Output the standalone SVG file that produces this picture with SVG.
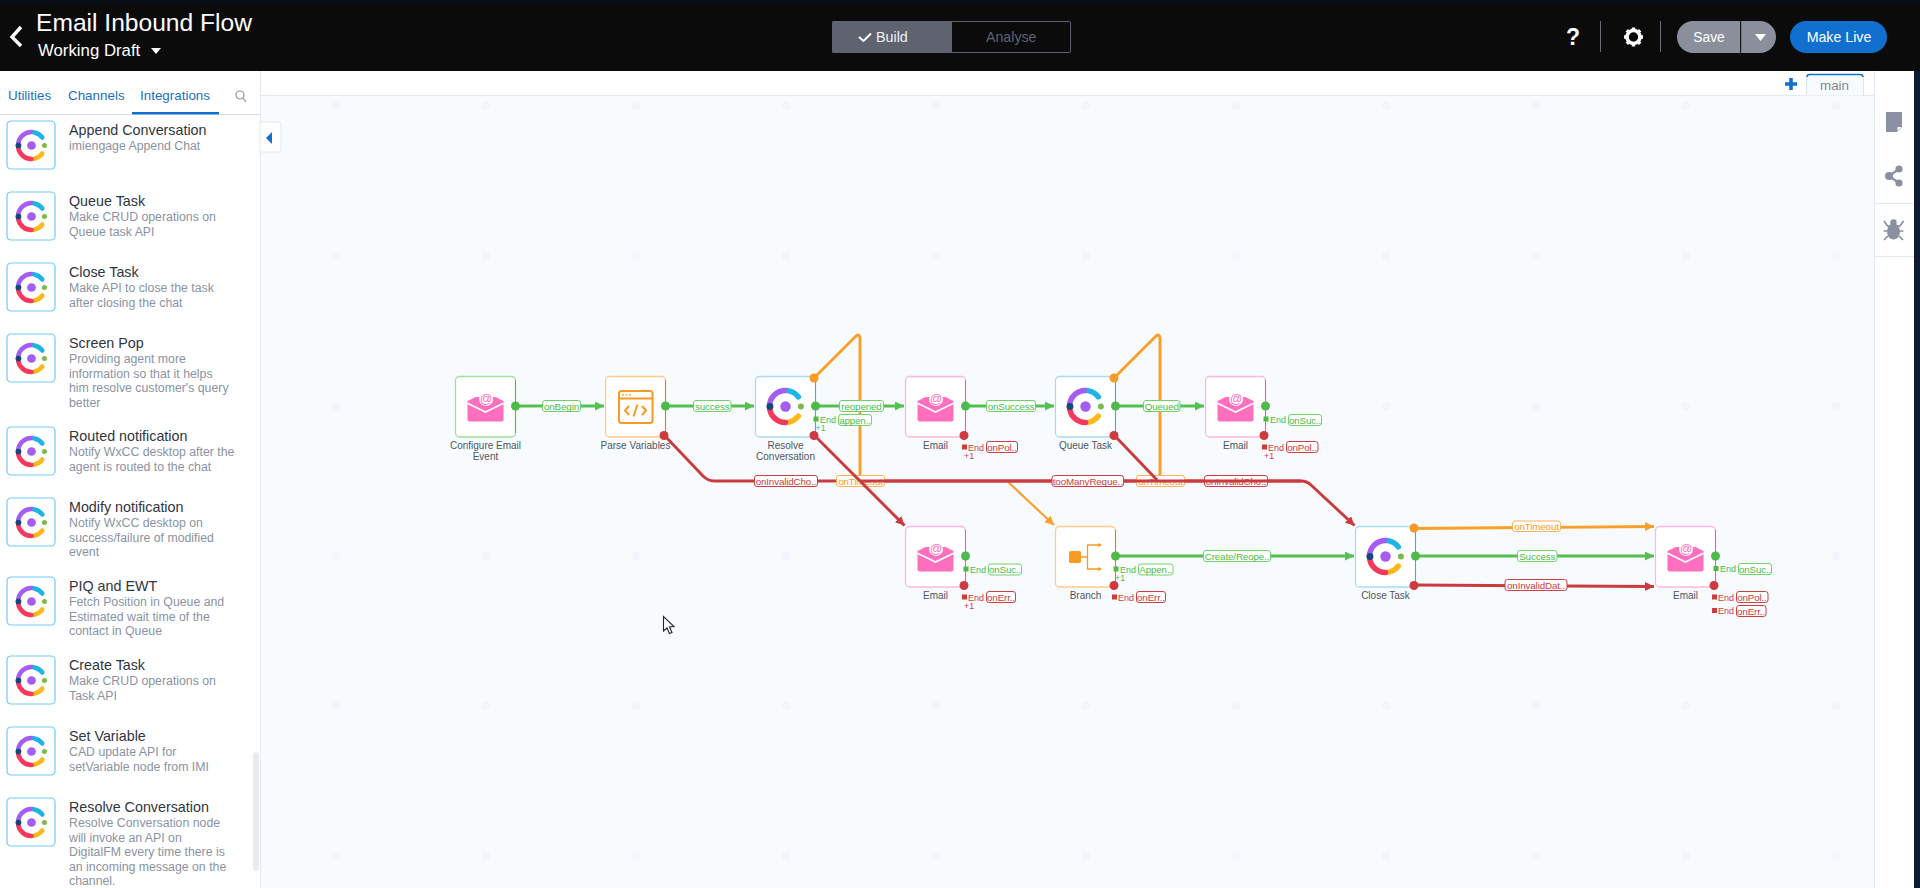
<svg xmlns="http://www.w3.org/2000/svg" width="1920" height="888" viewBox="0 0 1920 888">
<style>
text{font-family:"Liberation Sans",Arial,sans-serif}
.nl{font-size:10px;fill:#4f5560;text-anchor:middle}
.box{fill:#fff;stroke-width:1.3}
.edge{stroke:#8b9099;stroke-width:1}
.st{font-size:14.3px;fill:#2f3542}
.sd{font-size:12.3px;fill:#8b93a3}
.ic{fill:#fff;stroke:#74caf5;stroke-width:1.2}
.tab{font-size:13.4px;fill:#1b6fc2}
.lb{fill:#fff;stroke-width:1}
.lt{font-size:9.8px;letter-spacing:-.14px;text-anchor:middle}
.c{fill:none;stroke-width:2.9}
.cg{stroke:#54c04f}.cr{stroke:#cb3a3e}.co{stroke:#f99f2a}
.tg{fill:#4cbb4a}.tr{fill:#cf3a3f}.to{fill:#f89a23}
.bg{stroke:#6fd16a}.br{stroke:#c94045}.bo{stroke:#fbb05a}
.e{font-size:9px}
.p1{font-size:8.8px}
.pg{fill:#4cbb4a}.pr{fill:#cf3a3f}.po{fill:#f89a23}
.side{fill:#8a90a2}
</style>
<defs>
<marker id="ag" markerUnits="userSpaceOnUse" markerWidth="10" markerHeight="10" refX="9" refY="4.500" orient="auto"><path d="M0 0L9 4.500L0 9z" fill="#54c04f"/></marker>
<marker id="ar" markerUnits="userSpaceOnUse" markerWidth="10" markerHeight="10" refX="9" refY="4.500" orient="auto"><path d="M0 0L9 4.500L0 9z" fill="#cb3a3e"/></marker>
<marker id="ao" markerUnits="userSpaceOnUse" markerWidth="10" markerHeight="10" refX="9" refY="4.500" orient="auto"><path d="M0 0L9 4.500L0 9z" fill="#f99f2a"/></marker>
<g id="ring" fill="none" stroke-width="5.500" stroke-linecap="round">
<path d="M-16 0A16 16 0 0 1 1 -16" stroke="#a55cf0"/>
<path d="M3.500 -15.600A16 16 0 0 1 12.800 -9.600" stroke="#1fb4e6"/>
<path d="M12.800 9.600A16 16 0 0 1 3.500 15.600" stroke="#fbb81c"/>
<path d="M0 16A16 16 0 0 1 -16 0" stroke="#f5385c"/>
<circle cx="-15.500" cy="0" r="3.400" fill="#0d4a7c" stroke="none"/>
<circle cx="0" cy="0" r="5.200" fill="#a55cf0" stroke="none"/>
<circle cx="15.400" cy="0" r="3" fill="#7cba4d" stroke="none"/>
</g>
<g id="env">
<path d="M-18 -5L-10 -9H10L18 -5V13.500a2 2 0 0 1 -2 2H-16a2 2 0 0 1 -2 -2z" fill="#ff6fbd"/>
<path d="M-18 -2.800L0 6L18 -2.800" fill="none" stroke="#fff" stroke-width="1.700"/>
<circle cx="0.500" cy="-7" r="7" fill="#fff"/>
<text x="0.500" y="-2.600" font-size="12.500" text-anchor="middle" style="fill:#ff6fbd">@</text>
</g>
<g id="sideIcon">
<rect class="ic" x="0" y="0" width="48" height="48" rx="4"/>
<use href="#ring" transform="translate(24.500 24.500) scale(.84)"/>
</g>
</defs>

<rect width="1920" height="888" fill="#fff"/>
<rect id="canvas" x="261" y="96" width="1613" height="792" fill="#f8fbfe"/>
<g id="grid-dots" fill="#f2f5fb">
<circle cx="336" cy="106" r="4.500"/><circle cx="486" cy="106" r="4.500"/><circle cx="636" cy="106" r="4.500"/><circle cx="786" cy="106" r="4.500"/><circle cx="936" cy="106" r="4.500"/><circle cx="1086" cy="106" r="4.500"/><circle cx="1236" cy="106" r="4.500"/><circle cx="1386" cy="106" r="4.500"/><circle cx="1536" cy="106" r="4.500"/><circle cx="1686" cy="106" r="4.500"/><circle cx="1836" cy="106" r="4.500"/>
<circle cx="336" cy="256" r="4.500"/><circle cx="486" cy="256" r="4.500"/><circle cx="636" cy="256" r="4.500"/><circle cx="786" cy="256" r="4.500"/><circle cx="936" cy="256" r="4.500"/><circle cx="1086" cy="256" r="4.500"/><circle cx="1236" cy="256" r="4.500"/><circle cx="1386" cy="256" r="4.500"/><circle cx="1536" cy="256" r="4.500"/><circle cx="1686" cy="256" r="4.500"/><circle cx="1836" cy="256" r="4.500"/>
<circle cx="336" cy="406" r="4.500"/><circle cx="1386" cy="406" r="4.500"/><circle cx="1536" cy="406" r="4.500"/><circle cx="1686" cy="406" r="4.500"/><circle cx="1836" cy="406" r="4.500"/>
<circle cx="336" cy="556" r="4.500"/><circle cx="486" cy="556" r="4.500"/><circle cx="636" cy="556" r="4.500"/><circle cx="786" cy="556" r="4.500"/><circle cx="1836" cy="556" r="4.500"/>
<circle cx="336" cy="706" r="4.500"/><circle cx="486" cy="706" r="4.500"/><circle cx="636" cy="706" r="4.500"/><circle cx="786" cy="706" r="4.500"/><circle cx="936" cy="706" r="4.500"/><circle cx="1086" cy="706" r="4.500"/><circle cx="1236" cy="706" r="4.500"/><circle cx="1386" cy="706" r="4.500"/><circle cx="1536" cy="706" r="4.500"/><circle cx="1686" cy="706" r="4.500"/><circle cx="1836" cy="706" r="4.500"/>
<circle cx="336" cy="856" r="4.500"/><circle cx="486" cy="856" r="4.500"/><circle cx="636" cy="856" r="4.500"/><circle cx="786" cy="856" r="4.500"/><circle cx="936" cy="856" r="4.500"/><circle cx="1086" cy="856" r="4.500"/><circle cx="1236" cy="856" r="4.500"/><circle cx="1386" cy="856" r="4.500"/><circle cx="1536" cy="856" r="4.500"/><circle cx="1686" cy="856" r="4.500"/><circle cx="1836" cy="856" r="4.500"/>
</g>

<g id="topbar">
<rect width="1920" height="71" fill="#0b0b0c"/>
<rect width="1920" height="3" fill="#0a0d18"/>
<path d="M21 27L12 37L21 46" fill="none" stroke="#fff" stroke-width="3.400"/>
<text x="36" y="31" font-size="24.600" fill="#fff">Email Inbound Flow</text>
<text x="38" y="56" font-size="16.800" fill="#fff">Working Draft</text>
<path d="M151 48H161L156 54z" fill="#fff"/>
<rect x="832.500" y="21.500" width="238" height="31" rx="1.500" fill="#0b0b0c" stroke="#5d616d"/>
<rect x="832" y="21" width="120" height="32" rx="1.500" fill="#5f636f"/>
<path d="M859 37L863.500 41L871 33.500" fill="none" stroke="#fff" stroke-width="2"/>
<text x="876" y="41.700" font-size="14.300" fill="#eef2f8">Build</text>
<text x="986" y="41.700" font-size="14.200" fill="#5d6270">Analyse</text>
<text x="1573" y="45" font-size="23" font-weight="bold" fill="#fff" text-anchor="middle">?</text>
<path d="M1600.500 21V52M1660.500 21V52" stroke="#666a72" stroke-width="1"/>
<g id="gear">
<circle cx="1633.500" cy="37" r="6.500" fill="none" stroke="#fff" stroke-width="3.600"/>
<path d="M1633.500 27.500V31M1633.500 43V46.500M1624 37H1627.500M1639.500 37H1643M1626.800 30.300L1629.300 32.800M1637.700 41.200L1640.200 43.700M1626.800 43.700L1629.300 41.200M1637.700 32.800L1640.200 30.300" stroke="#fff" stroke-width="3.400"/>
</g>
<rect x="1677" y="21" width="99" height="32" rx="16" fill="#8b8f9c"/>
<rect x="1740" y="21" width="1.200" height="32" fill="#17181c"/>
<text x="1709" y="42" font-size="13.800" fill="#fff" text-anchor="middle">Save</text>
<path d="M1755 34H1766L1760.500 41z" fill="#fff"/>
<rect x="1790" y="21" width="97" height="32" rx="16" fill="#1170cf"/>
<text x="1839" y="42" font-size="14.200" fill="#fff" text-anchor="middle">Make Live</text>
</g>

<g id="sidebar">
<rect x="0" y="71" width="260" height="817" fill="#fff"/>
<rect x="260" y="71" width="1" height="817" fill="#e4e8f0"/>
<text class="tab" x="8" y="100">Utilities</text>
<text class="tab" x="68" y="100">Channels</text>
<text class="tab" x="140" y="100">Integrations</text>
<rect x="0" y="114" width="260" height="1" fill="#d8dee8"/>
<rect x="132" y="112" width="87" height="2.400" fill="#1170cf"/>
<circle cx="240" cy="95" r="4" fill="none" stroke="#8b93a3" stroke-width="1.200"/>
<path d="M243 98L246 102" stroke="#8b93a3" stroke-width="1.200"/>
<rect x="253" y="752" width="6" height="119" rx="3" fill="#e9ecef"/>

<use href="#sideIcon" x="7" y="121"/>
<text class="st" x="69" y="135">Append Conversation</text>
<text class="sd" x="69" y="150">imiengage Append Chat</text>

<use href="#sideIcon" x="7" y="192"/>
<text class="st" x="69" y="206">Queue Task</text>
<text class="sd" x="69" y="221">Make CRUD operations on</text>
<text class="sd" x="69" y="235.500">Queue task API</text>

<use href="#sideIcon" x="7" y="263"/>
<text class="st" x="69" y="277">Close Task</text>
<text class="sd" x="69" y="292">Make API to close the task</text>
<text class="sd" x="69" y="306.500">after closing the chat</text>

<use href="#sideIcon" x="7" y="334"/>
<text class="st" x="69" y="348">Screen Pop</text>
<text class="sd" x="69" y="363">Providing agent more</text>
<text class="sd" x="69" y="377.500">information so that it helps</text>
<text class="sd" x="69" y="392">him resolve customer's query</text>
<text class="sd" x="69" y="406.500">better</text>

<use href="#sideIcon" x="7" y="427"/>
<text class="st" x="69" y="441">Routed notification</text>
<text class="sd" x="69" y="456">Notify WxCC desktop after the</text>
<text class="sd" x="69" y="470.500">agent is routed to the chat</text>

<use href="#sideIcon" x="7" y="498"/>
<text class="st" x="69" y="512">Modify notification</text>
<text class="sd" x="69" y="527">Notify WxCC desktop on</text>
<text class="sd" x="69" y="541.500">success/failure of modified</text>
<text class="sd" x="69" y="556">event</text>

<use href="#sideIcon" x="7" y="577"/>
<text class="st" x="69" y="591">PIQ and EWT</text>
<text class="sd" x="69" y="606">Fetch Position in Queue and</text>
<text class="sd" x="69" y="620.500">Estimated wait time of the</text>
<text class="sd" x="69" y="635">contact in Queue</text>

<use href="#sideIcon" x="7" y="656"/>
<text class="st" x="69" y="670">Create Task</text>
<text class="sd" x="69" y="685">Make CRUD operations on</text>
<text class="sd" x="69" y="699.500">Task API</text>

<use href="#sideIcon" x="7" y="727"/>
<text class="st" x="69" y="741">Set Variable</text>
<text class="sd" x="69" y="756">CAD update API for</text>
<text class="sd" x="69" y="770.500">setVariable node from IMI</text>

<use href="#sideIcon" x="7" y="798"/>
<text class="st" x="69" y="812">Resolve Conversation</text>
<text class="sd" x="69" y="827">Resolve Conversation node</text>
<text class="sd" x="69" y="841.500">will invoke an API on</text>
<text class="sd" x="69" y="856">DigitalFM every time there is</text>
<text class="sd" x="69" y="870.500">an incoming message on the</text>
<text class="sd" x="69" y="885">channel.</text>

<path d="M260 122H279a2 2 0 0 1 2 2V150a2 2 0 0 1 -2 2H260z" fill="#fff" stroke="#e4e8f0"/>
<path d="M272 132V144L266 138z" fill="#1170cf"/>
</g>

<g id="canvas-top">
<rect x="261" y="71" width="1613" height="24.500" fill="#fff"/>
<rect x="261" y="95" width="1613" height="1" fill="#e4e8f0"/>
<path d="M1791 78V90M1785 84H1797" stroke="#1170cf" stroke-width="3.600"/>
<path d="M1806.500 95.500V77a2.500 2.500 0 0 1 2.500 -2.500H1861a2.500 2.500 0 0 1 2.500 2.500V95.500" fill="#f8fbfe" stroke="#dfe4ec"/>
<path d="M1807 77a2.500 2.500 0 0 1 2.500 -2.500H1860.500a2.500 2.500 0 0 1 2.500 2.500" fill="none" stroke="#1170cf" stroke-width="1.400"/>
<text x="1834.500" y="90" font-size="13.400" fill="#82888f" text-anchor="middle">main</text>
</g>

<g id="rightpanel">
<rect x="1874" y="71" width="40" height="817" fill="#fff"/>
<rect x="1874" y="71" width="1" height="817" fill="#e4e8f0"/>
<rect x="1914" y="71" width="6" height="817" fill="#0c1a33"/>
<path d="M1886 112H1902V127L1897 132H1886z" class="side"/>
<path d="M1897.500 131L1901.500 127H1897.500z" fill="#fff"/>
<g class="side"><circle cx="1899" cy="169" r="3.600"/><circle cx="1899" cy="183" r="3.600"/><circle cx="1889" cy="176" r="4"/><path d="M1889 176L1899 169M1889 176L1899 183" stroke="#8a90a2" stroke-width="2.200"/></g>
<rect x="1875" y="203" width="39" height="1" fill="#e4e8f0"/>
<g id="bug"><ellipse class="side" cx="1893.500" cy="231.500" rx="6.500" ry="8"/><circle class="side" cx="1893.500" cy="222.500" r="3.200"/><path d="M1884 221L1887.500 226H1900L1903.500 221M1883.500 231H1903.500M1884 240L1888 236M1903 240L1899 236" fill="none" stroke="#8a90a2" stroke-width="1.700"/></g>
<rect x="1875" y="256" width="39" height="1" fill="#e4e8f0"/>
</g>

<g id="connectors">
<path class="c cr" d="M664 435L703 476Q708 481 714 481H1301"/>
<path class="c co" d="M814 378L855 337Q860 332 860 340V477"/>
<path class="c co" d="M1114 378L1155 337Q1160 332 1160 340V477"/>
<path class="c cg" d="M515 406H604" marker-end="url(#ag)"/>
<path class="c cg" d="M665 406H754" marker-end="url(#ag)"/>
<path class="c cg" d="M815 406H904" marker-end="url(#ag)"/>
<path class="c cg" d="M965 406H1054" marker-end="url(#ag)"/>
<path class="c cg" d="M1115 406H1204" marker-end="url(#ag)"/>
<path class="c cg" d="M1115 556H1354" marker-end="url(#ag)"/>
<path class="c co" d="M1414 528.500L1654 526.500" marker-end="url(#ao)"/>
<path class="c cg" d="M1415 556H1654" marker-end="url(#ag)"/>
<path class="c cr" d="M1414 585L1654 586.500" marker-end="url(#ar)"/>
<path class="c co" d="M1007 481L1054 525" marker-end="url(#ao)" style="stroke-width:2.200"/>

<g class="labels">
<rect class="lb bg" x="542.500" y="400.500" width="38" height="11" rx="2.500"/><text class="lt tg" x="561.500" y="409.500">onBegin</text>
<rect class="lb bg" x="693.500" y="400.500" width="37.500" height="11" rx="2.500"/><text class="lt tg" x="712.250" y="409.500">success</text>
<rect class="lb bg" x="839.500" y="400.500" width="44" height="11" rx="2.500"/><text class="lt tg" x="861.500" y="409.500">reopened</text>
<rect class="lb bg" x="986.500" y="400.500" width="49" height="11" rx="2.500"/><text class="lt tg" x="1011" y="409.500">onSuccess</text>
<rect class="lb bg" x="1143.500" y="400.500" width="36.500" height="11" rx="2.500"/><text class="lt tg" x="1161.750" y="409.500">Queued</text>
<rect class="lb bg" x="1203.500" y="550.500" width="67" height="11" rx="2.500"/><text class="lt tg" x="1237" y="559.500">Create/Reope..</text>
<rect class="lb bg" x="1517.500" y="550.500" width="39.500" height="11" rx="2.500"/><text class="lt tg" x="1537.250" y="559.500">Success</text>
<rect class="lb bo" x="1512.500" y="521" width="48" height="10.500" rx="2.500"/><text class="lt to" x="1536.500" y="529.800">onTimeout</text>
<rect class="lb br" x="1505" y="579.500" width="62" height="11" rx="2.500"/><text class="lt tr" x="1536" y="588.500">onInvalidDat..</text>
<rect class="lb br" x="754.500" y="475.500" width="63" height="11" rx="2.500"/><text class="lt tr" x="786" y="484.500">onInvalidCho..</text>
<rect class="lb bo" x="836.500" y="475.500" width="48" height="11" rx="2.500"/><text class="lt to" x="860.500" y="484.500">onTimeout</text>
<rect class="lb bo" x="1136.500" y="475.500" width="48" height="11" rx="2.500"/><text class="lt to" x="1160.500" y="484.500">onTimeout</text>
<rect class="lb br" x="1204.500" y="475.500" width="63" height="11" rx="2.500"/><text class="lt tr" x="1236" y="484.500">onInvalidCho..</text>
</g>
<path class="c cr" d="M860 481H1301Q1307 481 1311 485L1354.500 525.500" marker-end="url(#ar)"/>
<path class="c cr" d="M814 435L904.500 525.500" marker-end="url(#ar)"/>
<path class="c cr" d="M1114 435L1157 480"/>
<g class="labels">
<rect class="lb br" x="1052" y="475.500" width="71.500" height="11" rx="2.500"/><text class="lt tr" x="1087.750" y="484.500">tooManyReque..</text>
</g>
</g>

<g id="n-configure">
<rect class="box" x="455.500" y="376.500" width="60" height="60.500" rx="4" stroke="#9fe09b"/><path class="edge" d="M515.500 380V433"/>
<use href="#env" x="485.500" y="406"/>
<text class="nl" x="485.500" y="449">Configure Email</text><text class="nl" x="485.500" y="460">Event</text>
<circle class="pg" cx="515.500" cy="406" r="4.500"/>
</g>

<g id="n-parse">
<rect class="box" x="605.500" y="376.500" width="60" height="60.500" rx="4" stroke="#ffca8a"/><path class="edge" d="M665.500 380V433"/>
<rect x="619" y="391" width="33.500" height="32" rx="2.500" fill="none" stroke="#f89a23" stroke-width="2"/>
<path d="M619 398.500H652.500" stroke="#f89a23" stroke-width="1.800"/>
<path d="M622 394.800H624M625.500 394.800H627.500M629 394.800H631" stroke="#f89a23" stroke-width="1.200"/>
<path d="M629 406L625 410.500L629 415M642 406L646 410.500L642 415M637.500 404.500L633.500 416.500" fill="none" stroke="#f89a23" stroke-width="2"/>
<text class="nl" x="635.500" y="449">Parse Variables</text>
<circle class="pg" cx="665.500" cy="406" r="4.500"/><circle class="pr" cx="664" cy="435.500" r="4.500"/>
</g>

<g id="n-resolve">
<rect class="box" x="755.500" y="376.500" width="60" height="60.500" rx="4" stroke="#a7daf8"/><path class="edge" d="M815.500 380V433"/>
<use href="#ring" x="785.500" y="406.500"/>
<text class="nl" x="785.500" y="449">Resolve</text><text class="nl" x="785.500" y="460">Conversation</text>
<circle class="po" cx="814" cy="378" r="4.500"/><circle class="pg" cx="815.500" cy="406" r="4.500"/><circle class="pr" cx="814" cy="435.500" r="4.500"/>
<rect class="pg" x="813.500" y="416.500" width="5" height="5"/><text class="e tg" x="820" y="422.800">End</text>
<rect class="lb bg" x="838.500" y="414.500" width="33" height="11" rx="2.500"/><text class="lt tg" x="855" y="423.500">appen..</text>
<text class="p1 tg" x="815.500" y="430.500">+1</text>
</g>

<g id="n-email1">
<rect class="box" x="905.500" y="376.500" width="60" height="60.500" rx="4" stroke="#ffb6e0"/><path class="edge" d="M965.500 380V433"/>
<use href="#env" x="935.500" y="406"/>
<text class="nl" x="935.500" y="449">Email</text>
<circle class="pg" cx="965.500" cy="406" r="4.500"/><circle class="pr" cx="964" cy="435.500" r="4.500"/>
<rect class="pr" x="962" y="444.500" width="5" height="5"/><text class="e tr" x="968" y="450.800">End</text>
<rect class="lb br" x="986.500" y="441.500" width="31" height="11" rx="2.500"/><text class="lt tr" x="1002" y="450.500">onPol..</text>
<text class="p1 tr" x="964" y="458.500">+1</text>
</g>

<g id="n-queue">
<rect class="box" x="1055.500" y="376.500" width="60" height="60.500" rx="4" stroke="#a7daf8"/><path class="edge" d="M1115.500 380V433"/>
<use href="#ring" x="1085.500" y="406.500"/>
<text class="nl" x="1085.500" y="449">Queue Task</text>
<circle class="po" cx="1114" cy="378" r="4.500"/><circle class="pg" cx="1115.500" cy="406" r="4.500"/><circle class="pr" cx="1114" cy="435.500" r="4.500"/>
</g>

<g id="n-email2">
<rect class="box" x="1205.500" y="376.500" width="60" height="60.500" rx="4" stroke="#ffb6e0"/><path class="edge" d="M1265.500 380V433"/>
<use href="#env" x="1235.500" y="406"/>
<text class="nl" x="1235.500" y="449">Email</text>
<circle class="pg" cx="1265.500" cy="406" r="4.500"/><circle class="pr" cx="1264" cy="435.500" r="4.500"/>
<rect class="pg" x="1263.500" y="416.500" width="5" height="5"/><text class="e tg" x="1270" y="422.800">End</text>
<rect class="lb bg" x="1288.500" y="414.500" width="33" height="11" rx="2.500"/><text class="lt tg" x="1305" y="423.500">onSuc..</text>
<rect class="pr" x="1262" y="444.500" width="5" height="5"/><text class="e tr" x="1268" y="450.800">End</text>
<rect class="lb br" x="1286.500" y="441.500" width="31.500" height="11" rx="2.500"/><text class="lt tr" x="1302" y="450.500">onPol..</text>
<text class="p1 tr" x="1264" y="458.500">+1</text>
</g>

<g id="n-email3">
<rect class="box" x="905.500" y="526.500" width="60" height="60.500" rx="4" stroke="#ffb6e0"/><path class="edge" d="M965.500 530V583"/>
<use href="#env" x="935.500" y="556"/>
<text class="nl" x="935.500" y="599">Email</text>
<circle class="pg" cx="965.500" cy="556" r="4.500"/><circle class="pr" cx="964" cy="585.500" r="4.500"/>
<rect class="pg" x="963.500" y="566.500" width="5" height="5"/><text class="e tg" x="970" y="572.800">End</text>
<rect class="lb bg" x="988.500" y="564" width="33" height="11" rx="2.500"/><text class="lt tg" x="1005" y="573">onSuc..</text>
<rect class="pr" x="962" y="594.500" width="5" height="5"/><text class="e tr" x="968" y="600.800">End</text>
<rect class="lb br" x="986.500" y="591.500" width="29" height="11" rx="2.500"/><text class="lt tr" x="1001" y="600.500">onErr..</text>
<text class="p1 tr" x="964" y="608.500">+1</text>
</g>

<g id="n-branch">
<rect class="box" x="1055.500" y="526.500" width="60" height="60.500" rx="4" stroke="#ffca8a"/><path class="edge" d="M1115.500 530V583"/>
<rect x="1069" y="551" width="12" height="12" rx="1.500" fill="#f89a23"/>
<path d="M1081 557H1087.500M1101 545H1087.500V569H1101" fill="none" stroke="#f89a23" stroke-width="1.300"/>
<path d="M1098 543L1102 545L1098 547zM1098 567L1102 569L1098 571z" fill="#f89a23"/>
<text class="nl" x="1085.500" y="599">Branch</text>
<circle class="pg" cx="1115.500" cy="556" r="4.500"/><circle class="pr" cx="1114" cy="585.500" r="4.500"/>
<rect class="pg" x="1113.500" y="566.500" width="5" height="5"/><text class="e tg" x="1120" y="572.800">End</text>
<rect class="lb bg" x="1138.500" y="564" width="34.500" height="11" rx="2.500"/><text class="lt tg" x="1155.700" y="573">Appen..</text>
<text class="p1 tg" x="1115" y="580.500">+1</text>
<rect class="pr" x="1112" y="594.500" width="5" height="5"/><text class="e tr" x="1118" y="600.800">End</text>
<rect class="lb br" x="1136.500" y="591.500" width="29" height="11" rx="2.500"/><text class="lt tr" x="1151" y="600.500">onErr..</text>
</g>

<g id="n-close">
<rect class="box" x="1355.500" y="526.500" width="60" height="60.500" rx="4" stroke="#a7daf8"/><path class="edge" d="M1415.500 530V583"/>
<use href="#ring" x="1385.500" y="556.500"/>
<text class="nl" x="1385.500" y="599">Close Task</text>
<circle class="po" cx="1414" cy="528" r="4.500"/><circle class="pg" cx="1415.500" cy="556" r="4.500"/><circle class="pr" cx="1414" cy="585.500" r="4.500"/>
</g>

<g id="n-email4">
<rect class="box" x="1655.500" y="526.500" width="60" height="60.500" rx="4" stroke="#ffb6e0"/><path class="edge" d="M1715.500 530V583"/>
<use href="#env" x="1685.500" y="556"/>
<text class="nl" x="1685.500" y="599">Email</text>
<circle class="pg" cx="1715.500" cy="556" r="4.500"/><circle class="pr" cx="1714" cy="585.500" r="4.500"/>
<rect class="pg" x="1713.500" y="566" width="5" height="5"/><text class="e tg" x="1720" y="572.300">End</text>
<rect class="lb bg" x="1738.500" y="563.500" width="33" height="11" rx="2.500"/><text class="lt tg" x="1755" y="572.500">onSuc..</text>
<rect class="pr" x="1712" y="594.500" width="5" height="5"/><text class="e tr" x="1718" y="600.800">End</text>
<rect class="lb br" x="1736.500" y="591.500" width="31.500" height="11" rx="2.500"/><text class="lt tr" x="1752" y="600.500">onPol..</text>
<rect class="pr" x="1712" y="608" width="5" height="5"/><text class="e tr" x="1718" y="614.300">End</text>
<rect class="lb br" x="1736.500" y="605.500" width="29.500" height="11" rx="2.500"/><text class="lt tr" x="1751" y="614.500">onErr..</text>
</g>

<path id="cursor" d="M663.500 616.500V631L667 628L669.500 633.500L672 632.500L669.500 627L674 626.500z" fill="#fff" stroke="#22252b" stroke-width="1.100"/>
</svg>
